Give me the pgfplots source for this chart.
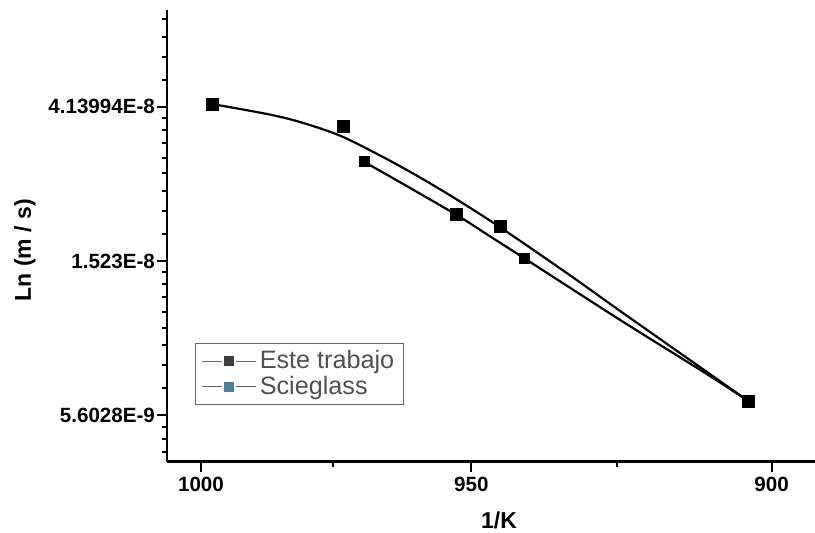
\documentclass[border=0pt]{standalone}
\usepackage{fontspec}
\setmainfont{Liberation Sans}
\usepackage{pgfplots}
\pgfplotsset{compat=1.18}
\usepackage{pgfplotstable}
\definecolor{sciblue}{RGB}{74,127,158}
\definecolor{legtext}{RGB}{80,80,80}
\definecolor{legline}{RGB}{100,100,100}
\definecolor{legmark}{RGB}{60,60,60}

% fitted curves (T in K, rate in m/s)
\pgfplotstableread{
T V
997.86 4.213e-8
987.31 3.949e-8
981.09 3.749e-8
973.10 3.401e-8
962.70 2.8185e-8
953.76 2.3354e-8
944.99 1.897e-8
932.97 1.3898e-8
924.57 1.1042e-8
903.75 6.14e-9
}\upcurve
\pgfplotstableread{
T V
969.42 2.911e-8
962.70 2.541e-8
952.52 2.051e-8
946.20 1.767e-8
941.00 1.562e-8
924.57 1.0416e-8
910.31 7.316e-9
903.75 6.14e-9
}\lowcurve
\pgfplotstableread{
T V
997.86 4.213e-8
972.91 3.653e-8
952.52 2.064e-8
944.99 1.910e-8
903.75 6.14e-9
}\estedata
\pgfplotstableread{
T V
969.24 2.911e-8
940.83 1.552e-8
903.75 6.14e-9
}\scidata

\begin{document}
\begin{tikzpicture}
\begin{axis}[
  scale only axis, width=324pt, height=225.85pt,
  at={(0,0)}, anchor=south west,
  axis lines*=left,
  axis line style={line width=1.4pt},
  xmin=0.993384, xmax=1.119545,
  ymode=log, ymin=4.145e-9, ymax=7.75e-8,
  xtick={1,1.0526316,1.1111111}, xticklabels={1000,950,900},
  minor xtick={1.0256410,1.0810811},
  ytick={5.6027964e-9,1.5229980e-8,4.1399377e-8},
  yticklabels={5.6028E-9,1.523E-8,4.13994E-8},
  minor ytick={4.422e-9,4.816e-9,5.209e-9,
    6.672e-9,7.742e-9,8.812e-9,9.882e-9,1.0951e-8,1.2021e-8,1.3091e-8,1.4160e-8,
    1.8138e-8,2.1045e-8,2.3953e-8,2.6861e-8,2.9768e-8,3.2676e-8,3.5584e-8,3.8492e-8,
    4.930e-8,5.721e-8,6.511e-8,7.302e-8},
  tick align=outside,
  major tick length=5pt, minor tick length=2.5pt,
  every tick/.style={black, line width=1pt},
  tick label style={font=\bfseries\fontsize{10.3}{12}\selectfont},
  yticklabel style={xshift=2.5pt},
  xticklabel style={yshift=1pt},
  /pgf/number format/assume math mode=true,
  xlabel={1/K}, ylabel={Ln (m / s)},
  label style={font=\bfseries\fontsize{11.5}{13}\selectfont},
  x label style={at={(axis description cs:0.5123,-0.1468)}, anchor=base},
  y label style={at={(axis description cs:-0.2099,0.4687)}, anchor=base},
  legend image code/.code={
    \draw[#1, mark=none] (0pt,0pt) -- (10pt,0pt);
    \draw[#1, mark=none] (17pt,0pt) -- (27pt,0pt);
    \draw[#1, only marks] plot coordinates {(13.5pt,0pt)};
  },
  legend style={at={(axis description cs:0.0432,0.2628)}, anchor=north west,
    draw=legline, line width=0.6pt, font=\fontsize{12.6}{13.5}\selectfont,
    text=legtext, inner xsep=3pt, inner ysep=2pt, row sep=-1pt,
    nodes={inner sep=1.5pt}},
  legend cell align=left,
]
\addplot[black, line width=1.1pt, smooth, tension=0.5, forget plot]
  table[x expr=1000/\thisrow{T}, y=V] {\upcurve};
\addplot[black, line width=1.1pt, smooth, tension=0.5, forget plot]
  table[x expr=1000/\thisrow{T}, y=V] {\lowcurve};
\addplot[only marks, mark=square*, mark size=3pt, black, forget plot]
  table[x expr=1000/\thisrow{T}, y=V] {\estedata};
\addplot[only marks, mark=square*, mark size=2.5pt, black, forget plot]
  table[x expr=1000/\thisrow{T}, y=V] {\scidata};
\addlegendimage{legline, line width=0.6pt, mark=square*, mark size=2.2pt, mark options={fill=legmark, draw=legmark}}
\addlegendentry{Este trabajo}
\addlegendimage{legline, line width=0.6pt, mark=square*, mark size=2.2pt, mark options={fill=sciblue, draw=sciblue}}
\addlegendentry{Scieglass}
\end{axis}
\pgfresetboundingbox
\path (-83.5pt,-35.15pt) rectangle (324pt,230.85pt);
\end{tikzpicture}
\end{document}
